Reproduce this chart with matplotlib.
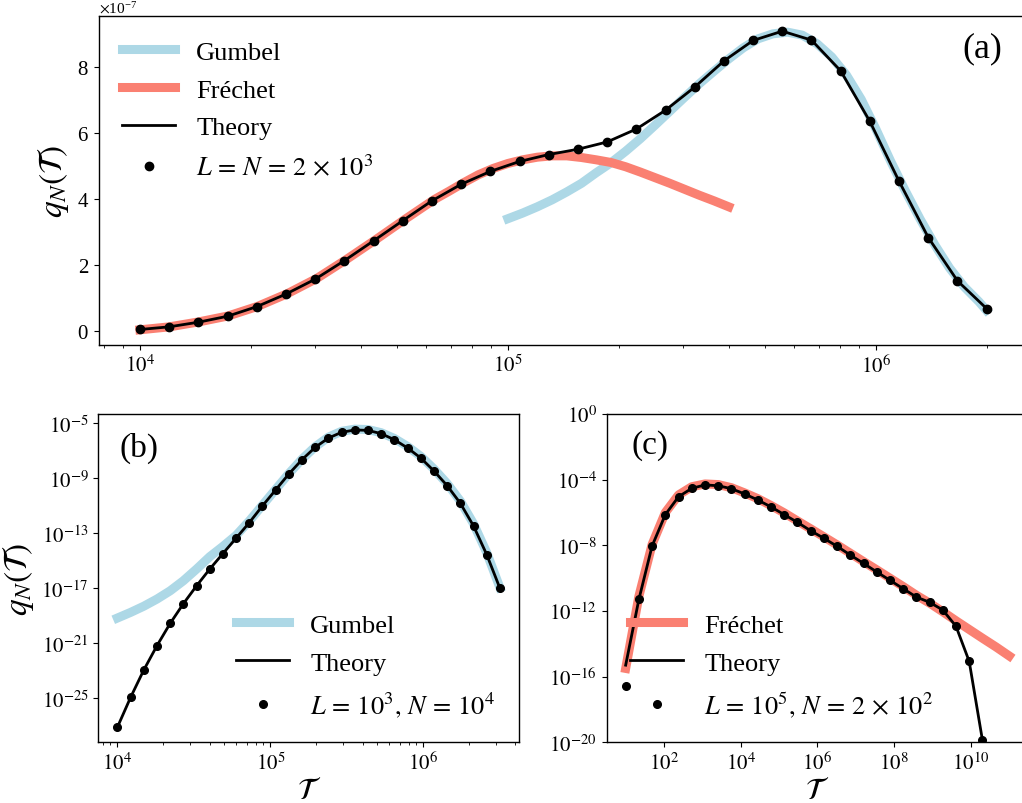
import numpy as np
import matplotlib
matplotlib.use("Agg")
import matplotlib.pyplot as plt
from matplotlib.ticker import (ScalarFormatter, FixedLocator, NullLocator,
                               LogLocator, FuncFormatter)

plt.rcParams["font.family"] = ["Liberation Serif", "DejaVu Serif"]
plt.rcParams["mathtext.fontset"] = "stix"
plt.rcParams["axes.linewidth"] = 1.0

# ---------------- panel (a): L = N = 2x10^3 (values in units of 1e-7) ----------
T_a = np.logspace(4, np.log10(2e6), 30)
sim_a = [0.06, 0.14, 0.28, 0.46, 0.75, 1.13, 1.58, 2.14, 2.74, 3.35,
         3.95, 4.45, 4.84, 5.14, 5.35, 5.51, 5.73, 6.12, 6.69, 7.39,
         8.18, 8.80, 9.08, 8.81, 7.88, 6.35, 4.54, 2.84, 1.53, 0.69]
theory_a = sim_a

gumbel_logT_a = [5.00, 5.04, 5.08, 5.12, 5.16, 5.20, 5.24, 5.28, 5.32, 5.36,
                 5.40, 5.44, 5.48, 5.52, 5.56, 5.60, 5.64, 5.68, 5.72, 5.76,
                 5.80, 5.84, 5.88, 5.92, 5.96, 6.00, 6.04, 6.08, 6.12, 6.16,
                 6.20, 6.24, 6.28, 6.30]
gumbel_a = [3.41, 3.58, 3.77, 3.98, 4.22, 4.48, 4.80, 5.10, 5.45, 5.83,
            6.24, 6.66, 7.08, 7.49, 7.87, 8.24, 8.58, 8.85, 9.00, 9.05,
            8.96, 8.70, 8.30, 7.75, 7.02, 6.12, 5.15, 4.25, 3.40, 2.62,
            1.92, 1.35, 0.90, 0.64]

frechet_logT_a = [4.00, 4.08, 4.16, 4.24, 4.32, 4.40, 4.48, 4.56, 4.64, 4.72,
                  4.80, 4.84, 4.88, 4.92, 4.96, 5.00, 5.04, 5.08, 5.12, 5.16,
                  5.20, 5.24, 5.28, 5.32, 5.36, 5.40, 5.44, 5.48, 5.52, 5.56,
                  5.60]
frechet_a = [0.05, 0.14, 0.29, 0.47, 0.76, 1.14, 1.60, 2.17, 2.77, 3.39,
             3.99, 4.24, 4.50, 4.74, 4.93, 5.08, 5.19, 5.27, 5.31, 5.31,
             5.26, 5.19, 5.11, 4.98, 4.82, 4.65, 4.48, 4.30, 4.12, 3.95,
             3.77]

# ---------------- panel (b): L = 10^3, N = 10^4 (log10 of q) -------------------
T_b = np.logspace(4, 6.5, 30)
log_sim_b = [-27.10, -24.93, -22.94, -21.17, -19.55, -18.12, -16.82, -15.60,
             -14.47, -13.35, -12.22, -11.00, -9.84, -8.68, -7.64, -6.74,
             -6.07, -5.65, -5.48, -5.51, -5.75, -6.19, -6.79, -7.52, -8.46,
             -9.53, -10.81, -12.46, -14.54, -16.99]
log_theory_b = log_sim_b
log_gumbel_b = [-19.16, -18.75, -18.30, -17.78, -17.18, -16.45, -15.60, -14.70,
                -13.95, -13.15, -12.10, -10.95, -9.80, -8.65, -7.60, -6.70,
                -6.00, -5.58, -5.42, -5.45, -5.68, -6.10, -6.68, -7.40, -8.32,
                -9.38, -10.65, -12.30, -14.40, -16.95]

# ---------------- panel (c): L = 10^5, N = 2x10^2 (log10 of q) -----------------
T_c = np.logspace(1, np.log10(2e10), 28)
log_sim_c = [-16.57, -11.29, -8.04, -6.13, -5.04, -4.53, -4.32, -4.37, -4.55,
             -4.87, -5.24, -5.66, -6.13, -6.60, -7.11, -7.57, -8.06, -8.59,
             -9.10, -9.62, -10.13, -10.64, -11.15, -11.47, -11.94, -12.93,
             -15.07, -19.86]
log_theory_c = [-15.30] + log_sim_c[1:]
frechet_T_c = np.logspace(1, 11, 30)
log_frechet_c = [-15.50, -11.10, -7.94, -6.00, -4.93, -4.43, -4.26, -4.30,
                 -4.49, -4.81, -5.16, -5.58, -6.03, -6.52, -7.00, -7.49,
                 -7.98, -8.49, -9.00, -9.50, -10.01, -10.52, -11.05, -11.53,
                 -12.06, -12.61, -13.14, -13.67, -14.19, -14.74]

GUMBEL = "lightblue"
FRECHET = "salmon"
THICK = 6.5
THIN = 2.0

W, H = 1022, 804
fig = plt.figure(figsize=(W / 100, H / 100), dpi=100)


def px_axes(left, top, right, bottom):
    return fig.add_axes([left / W, 1 - bottom / H, (right - left) / W,
                         (bottom - top) / H])


def pow10(v, pos=None):
    return r"$10^{%d}$" % int(round(np.log10(v)))


TICK_FS = 15
LEG_FS = 19
LAB_FS = 24
XLAB_FS = 22
LEG_KW = dict(frameon=False, fontsize=LEG_FS, labelspacing=0.55)

# ---------------- (a) ----------------
ax = px_axes(98.7, 17.3, 1029, 345.7)
scale = 1e-7
ax.plot(10.0 ** np.array(gumbel_logT_a), np.array(gumbel_a) * scale,
        color=GUMBEL, lw=THICK, label="Gumbel")
ax.plot(10.0 ** np.array(frechet_logT_a), np.array(frechet_a) * scale,
        color=FRECHET, lw=THICK, label="Fréchet")
ax.plot(T_a, np.array(theory_a) * scale, color="black", lw=THIN,
        label="Theory")
ax.plot(T_a, np.array(sim_a) * scale, "o", color="black", ms=6,
        label=r"$L\,=\,N\,=\,2\,\times\,10^{3}$")
ax.set_xscale("log")
ax.set_xlim(10 ** 3.888, 10 ** 6.416)
ax.set_ylim(-0.40e-7, 9.53e-7)
ax.xaxis.set_major_locator(FixedLocator([1e4, 1e5, 1e6]))
ax.xaxis.set_major_formatter(FuncFormatter(pow10))
ax.xaxis.set_minor_locator(LogLocator(base=10, subs=np.arange(2, 10)))
ax.set_yticks(np.array([0, 2, 4, 6, 8]) * scale)
fmt = ScalarFormatter(useMathText=True)
fmt.set_powerlimits((-3, 3))
ax.yaxis.set_major_formatter(fmt)
ax.yaxis.get_offset_text().set_fontsize(11)
ax.tick_params(labelsize=TICK_FS)
ax.set_ylabel(r"$q_N(\mathcal{T})$", fontsize=LAB_FS)
ax.legend(loc="upper left", **LEG_KW)
ax.text(0.971, 0.955, "(a)", transform=ax.transAxes, ha="right", va="top",
        fontsize=26)

# ---------------- (b) ----------------
bx = px_axes(98.3, 415, 519, 743.3)
bx.plot(T_b, 10.0 ** np.array(log_gumbel_b), color=GUMBEL, lw=THICK,
        label="Gumbel")
bx.plot(T_b, 10.0 ** np.array(log_theory_b), color="black", lw=THIN,
        label="Theory")
bx.plot(T_b, 10.0 ** np.array(log_sim_b), "o", color="black", ms=5.5,
        label=r"$L\,=\,10^{3},\,N\,=\,10^{4}$")
bx.set_xscale("log")
bx.set_yscale("log")
bx.set_xlim(10 ** 3.875, 10 ** 6.625)
bx.set_ylim(10 ** -28.2, 10 ** -4.32)
bx.xaxis.set_major_locator(FixedLocator([1e4, 1e5, 1e6]))
bx.xaxis.set_major_formatter(FuncFormatter(pow10))
bx.xaxis.set_minor_locator(LogLocator(base=10, subs=np.arange(2, 10)))
bx.yaxis.set_major_locator(FixedLocator(10.0 ** np.arange(-25, -4, 4)))
bx.yaxis.set_major_formatter(FuncFormatter(pow10))
bx.yaxis.set_minor_locator(NullLocator())
bx.tick_params(labelsize=TICK_FS)
bx.set_xlabel(r"$\mathcal{T}$", fontsize=XLAB_FS, labelpad=1)
bx.set_ylabel(r"$q_N(\mathcal{T})$", fontsize=LAB_FS)
bx.legend(loc="lower right", **LEG_KW)
bx.text(0.05, 0.945, "(b)", transform=bx.transAxes, ha="left", va="top",
        fontsize=24)

# ---------------- (c) ----------------
cx = px_axes(606.5, 415, 1028.4, 743.3)
cx.plot(frechet_T_c, 10.0 ** np.array(log_frechet_c), color=FRECHET,
        lw=THICK, label="Fréchet")
cx.plot(T_c, 10.0 ** np.array(log_theory_c), color="black", lw=THIN,
        label="Theory")
cx.plot(T_c, 10.0 ** np.array(log_sim_c), "o", color="black", ms=5.5,
        label=r"$L\,=\,10^{5},\,N\,=\,2\,\times\,10^{2}$")
cx.set_xscale("log")
cx.set_yscale("log")
cx.set_xlim(10 ** 0.5, 10 ** 11.5)
cx.set_ylim(1e-20, 1e0)
cx.xaxis.set_major_locator(FixedLocator(10.0 ** np.arange(2, 11, 2)))
cx.xaxis.set_major_formatter(FuncFormatter(pow10))
cx.xaxis.set_minor_locator(NullLocator())
cx.yaxis.set_major_locator(FixedLocator(10.0 ** np.arange(-20, 1, 4)))
cx.yaxis.set_major_formatter(FuncFormatter(pow10))
cx.yaxis.set_minor_locator(NullLocator())
cx.tick_params(labelsize=TICK_FS)
cx.set_xlabel(r"$\mathcal{T}$", fontsize=XLAB_FS, labelpad=1)
cx.legend(loc="lower left", **LEG_KW)
cx.text(0.06, 0.955, "(c)", transform=cx.transAxes, ha="left", va="top",
        fontsize=24)

fig.savefig("out.png", dpi=100)
